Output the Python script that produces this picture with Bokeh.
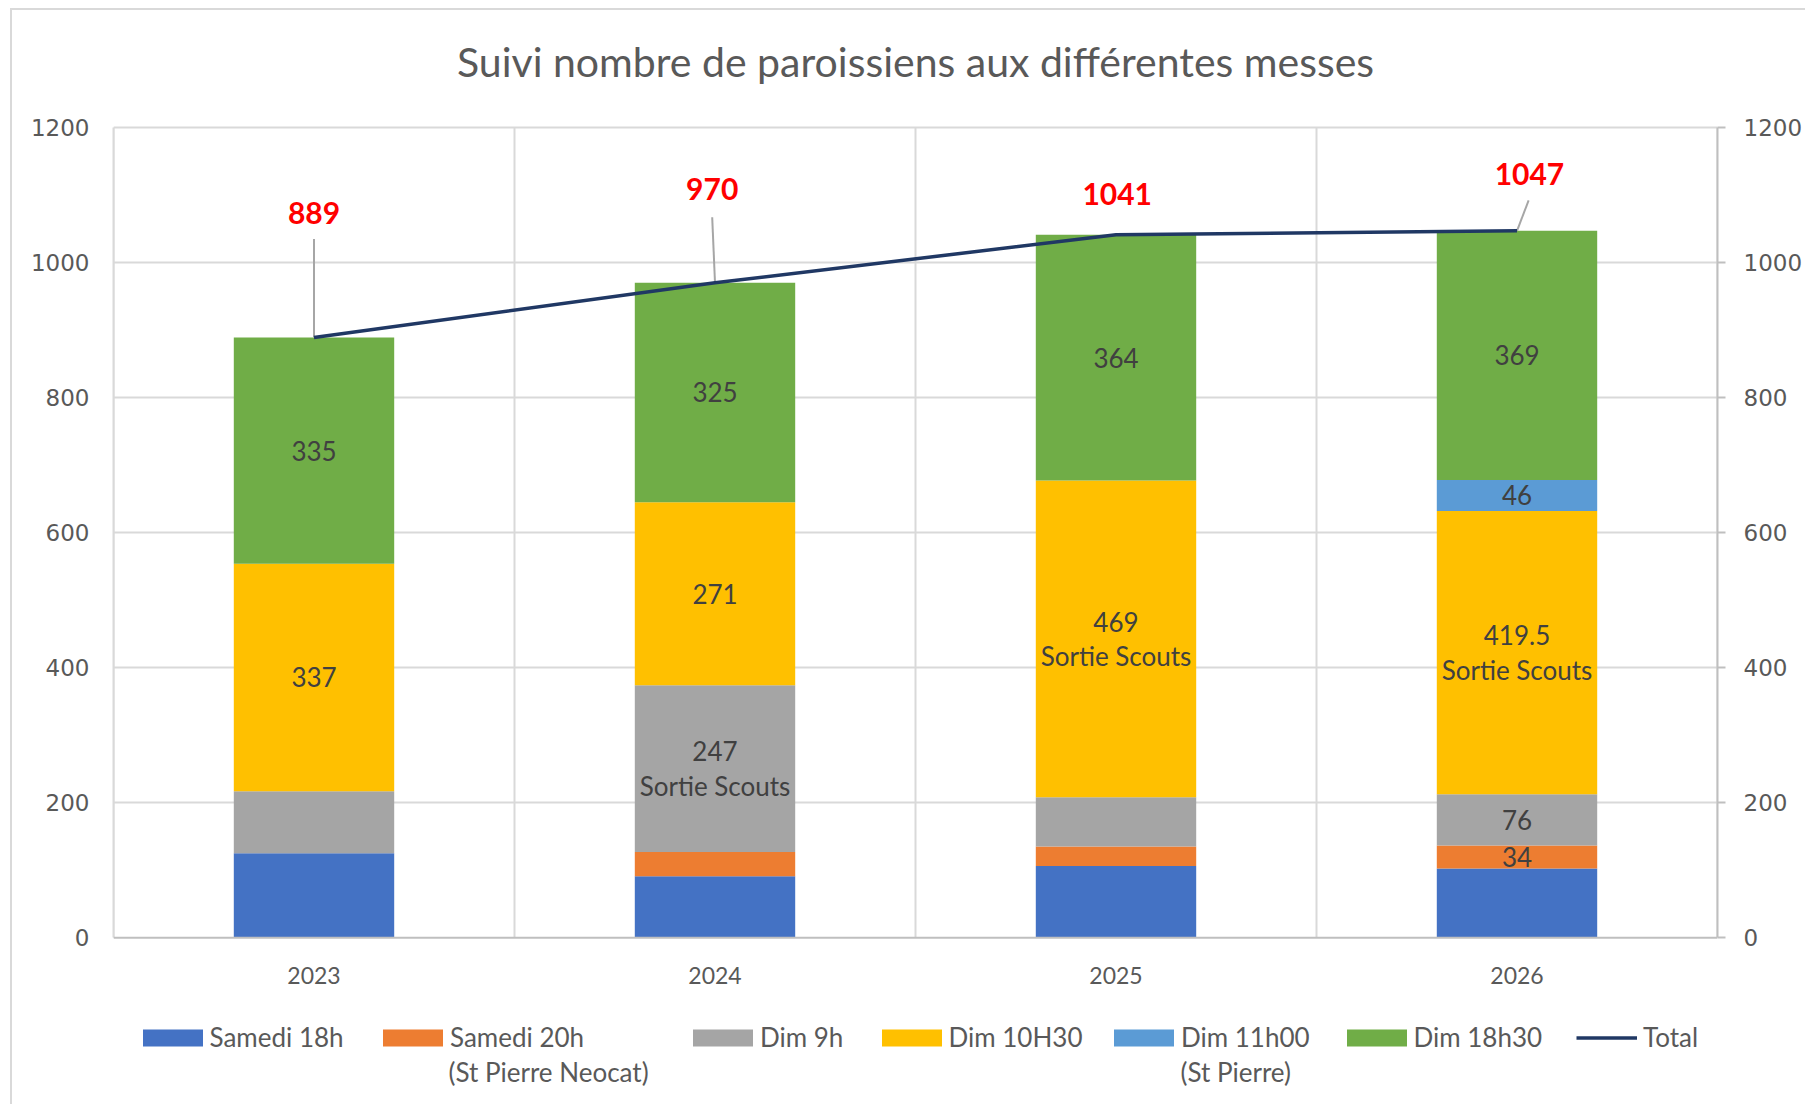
from bokeh.plotting import figure
from bokeh.models import ColumnDataSource, Range1d, LinearAxis, FixedTicker, Legend, LegendItem, Span
from bokeh.core.properties import value
from bokeh.embed import file_html
from bokeh.resources import INLINE

# ---------------- data ----------------
years = ["2023", "2024", "2025", "2026"]
samedi_18h = [125, 91, 106, 102.5]
samedi_20h = [0, 36, 29, 34]
dim_9h = [92, 247, 73, 76]
dim_10h30 = [337, 271, 469, 419.5]
dim_11h00 = [0, 0, 0, 46]
dim_18h30 = [335, 325, 364, 369]
total = [889, 970, 1041, 1047]

labels_18h = ["", "", "", ""]
labels_20h = ["", "", "", "34"]
labels_9h = ["", "247\nSortie Scouts", "", "76"]
labels_10h30 = ["337", "271", "469\nSortie Scouts", "419.5\nSortie Scouts"]
labels_11h00 = ["", "", "", "46"]
labels_18h30 = ["335", "325", "364", "369"]
total_labels = ["889", "970", "1041", "1047"]

series_names = ["Samedi 18h", "Samedi 20h", "Dim 9h", "Dim 10H30", "Dim 11h00", "Dim 18h30", "Total"]
series_notes = {1: "(St Pierre Neocat)", 4: "(St Pierre)"}
y_ticks = [0, 200, 400, 600, 800, 1000, 1200]

# ---------------- styles / layout ----------------
FONT = "Lato"
colors = ["#4472C4", "#ED7D31", "#A5A5A5", "#FFC000", "#5B9BD5", "#70AD47"]
TEXT_GRAY = "#595959"
LABEL_GRAY = "#404040"
GRID = "#d9d9d9"
AXIS = "#bfbfbf"
BAR_WIDTH = 0.4
tl_dx = [0.0, -0.007, 0.003, 0.031]
tl_y = [1074, 1109, 1102, 1131]
leader_top_dx = [0.0, -0.007, None, 0.029]
leader_top_y = [1035, 1067, None, 1092]

W, H = 1805, 1104
FRAME_LEFT, FRAME_RIGHT = 113, 1717
FRAME_TOP, GRID_TOP_PX, ZERO_PX, FRAME_BOTTOM = 118, 126, 937, 1088
Y_MAX = 1200
PX_PER_UNIT = (ZERO_PX - GRID_TOP_PX) / Y_MAX
Y_TOP = Y_MAX + (GRID_TOP_PX - FRAME_TOP) / PX_PER_UNIT
Y_LOW = -(FRAME_BOTTOM - ZERO_PX) / PX_PER_UNIT

# legend layout (pixels from frame left / frame bottom)
leg_x = [21.5, 262, 572, 760.5, 993, 1225.5, 1463]
leg_note_x = {1: 335.5, 4: 1067.5}
LEG_Y1, LEG_Y2 = 35, 0

p = figure(width=W, height=H, output_backend="svg", toolbar_location=None,
           x_range=Range1d(0, len(years)), y_range=Range1d(Y_LOW, Y_TOP),
           min_border_left=FRAME_LEFT, min_border_right=W - FRAME_RIGHT,
           min_border_top=FRAME_TOP, min_border_bottom=H - FRAME_BOTTOM)
p.outline_line_color = None
p.background_fill_color = "white"
p.border_fill_color = None
p.styles = {"background": f"linear-gradient(#d9d9d9,#d9d9d9) 10px 8px / {W - 10}px 2px no-repeat, "
                          f"linear-gradient(#d9d9d9,#d9d9d9) 10px 8px / 2px {H - 8}px no-repeat"}

xs = [i + 0.5 for i in range(len(years))]

# grid
p.xgrid.visible = False
p.ygrid.ticker = FixedTicker(ticks=y_ticks[1:])
p.ygrid.grid_line_color = GRID
p.ygrid.grid_line_width = 2
bounds_x = list(range(len(years) + 1))
p.segment(x0=bounds_x, y0=[0] * len(bounds_x), x1=bounds_x, y1=[Y_MAX] * len(bounds_x),
          line_color=GRID, line_width=2)

layers = [samedi_18h, samedi_20h, dim_9h, dim_10h30, dim_11h00, dim_18h30]
layer_labels = [labels_18h, labels_20h, labels_9h, labels_10h30, labels_11h00, labels_18h30]
keys = ["s18", "s20", "d9", "d1030", "d11", "d1830"]
data = {"x": xs}
for k, arr in zip(keys, layers):
    data[k] = arr
src = ColumnDataSource(data)

bars = p.vbar_stack(keys, x="x", width=BAR_WIDTH, color=colors, line_color=None, source=src)

bottom = [0.0] * len(years)
for arr, labs in zip(layers, layer_labels):
    cy = [b + v / 2 for b, v in zip(bottom, arr)]
    bottom = [b + v for b, v in zip(bottom, arr)]
    lx = [x for x, t in zip(xs, labs) if t]
    ly = [y for y, t in zip(cy, labs) if t]
    lt = [t for t in labs if t]
    if lt:
        p.text(x=lx, y=ly, text=lt, text_align="center", text_baseline="middle",
               text_font=value(FONT), text_font_size="26px", text_color=LABEL_GRAY,
               text_line_height=1.07)

sx0, sy0, sx1, sy1 = [], [], [], []
for x, t, dx, ty in zip(xs, total, leader_top_dx, leader_top_y):
    if dx is None:
        continue
    sx0.append(x); sy0.append(t); sx1.append(x + dx); sy1.append(ty)
p.segment(x0=sx0, y0=sy0, x1=sx1, y1=sy1, line_color="#a6a6a6", line_width=2)
tot_line = p.line(xs, total, line_color="#203864", line_width=3.5)

p.text(x=[x + d for x, d in zip(xs, tl_dx)], y=tl_y, text=total_labels,
       text_align="center", text_baseline="middle", text_font=value(FONT),
       text_font_size="30px", text_font_style="bold", text_color="#FF0000")

# x axis (category labels under the zero line)
p.xaxis.visible = False
p.add_layout(Span(location=0, dimension="width", line_color=AXIS, line_width=2))
p.text(x=xs, y=[0] * len(xs), text=years, y_offset=38, text_align="center",
       text_baseline="middle", text_font=value(FONT), text_font_size="23px",
       text_color=TEXT_GRAY)

# y axes
p.yaxis.ticker = FixedTicker(ticks=y_ticks)
p.yaxis.bounds = (0, Y_MAX)
p.yaxis.axis_line_color = GRID
p.yaxis.axis_line_width = 2
p.yaxis.major_tick_line_color = None
p.yaxis.minor_tick_line_color = None
p.yaxis.major_label_standoff = 18
p.yaxis.major_label_text_font = "DejaVu Sans"
p.yaxis.major_label_text_font_size = "23px"
p.yaxis.major_label_text_color = TEXT_GRAY

ry = LinearAxis(ticker=FixedTicker(ticks=y_ticks), bounds=(0, Y_MAX))
ry.axis_line_color = AXIS
ry.axis_line_width = 2
ry.major_tick_line_color = AXIS
ry.major_tick_line_width = 2
ry.major_tick_out = 8
ry.major_tick_in = 0
ry.minor_tick_line_color = None
ry.major_label_standoff = 18
ry.major_label_text_font = "DejaVu Sans"
ry.major_label_text_font_size = "23px"
ry.major_label_text_color = TEXT_GRAY
p.add_layout(ry, "right")

# title
p.title.text = "Suivi nombre de paroissiens aux différentes messes"
p.title.align = "center"
p.title.vertical_align = "bottom"
p.title.text_font = FONT
p.title.text_font_size = "41px"
p.title.text_font_style = "normal"
p.title.text_color = TEXT_GRAY
p.title.standoff = 68

# legend: one small legend per entry so each sits where the reference puts it
renderers = list(bars) + [tot_line]
common = dict(orientation="horizontal", label_text_font=FONT, label_text_font_size="26px",
              label_text_color=TEXT_GRAY, border_line_color=None,
              background_fill_alpha=0, padding=0, margin=0, label_height=20)
for i, (name, r) in enumerate(zip(series_names, renderers)):
    is_line = (i == len(renderers) - 1)
    leg = Legend(items=[LegendItem(label=name, renderers=[r])],
                 location=(leg_x[i], LEG_Y1),
                 glyph_width=61 if is_line else 75, glyph_height=21,
                 label_standoff=6 if is_line else 0, **common)
    p.add_layout(leg, "center")
for i, note in series_notes.items():
    leg = Legend(items=[LegendItem(label=note, renderers=[renderers[i]])],
                 location=(leg_note_x[i], LEG_Y2), glyph_width=0, glyph_height=21,
                 label_standoff=0, **common)
    p.add_layout(leg, "center")

open("out.html", "w").write(file_html(p, INLINE))
